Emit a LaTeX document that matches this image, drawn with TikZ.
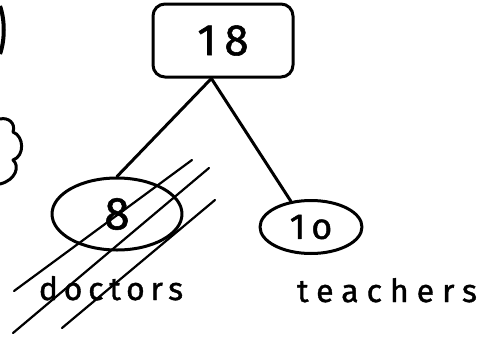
\documentclass[tikz,border=0pt]{standalone}
\usepackage{fontspec}
\setmainfont{Fira Sans}[FakeBold=1.2]
\usetikzlibrary{shapes.geometric,positioning}
\tikzset{
  ink/.style={line width=3pt, line cap=round, line join=round},
  sumbox/.style={draw, ink, rounded corners=12pt, minimum width=140pt,
    minimum height=73pt, inner sep=0pt, font=\fontsize{44}{44}\selectfont},
  part/.style={draw, ink, ellipse, inner sep=0pt},   % one group of the total
  word/.style={anchor=base, inner sep=0pt, font=\fontsize{32}{32}\selectfont},
  branch/.style={ink},
  hatch/.style={line width=2.2pt, line cap=round}    % shading over the doctors
}
\newcommand{\HatchDoctors}{%
  \foreach \xa/\ya/\xb/\yb in {14/291/192/160, 13/333/209/168, 62/328/215/200}{%
    \draw[hatch] (\xa,\ya) -- (\xb,\yb);
  }%
}

\begin{document}
\begin{tikzpicture}[x=1pt,y=-1pt]
  \useasboundingbox (0,0) rectangle (493,338);
  % whole and its two parts
  \node[sumbox] (total) at (223,40.5) {1\kern8pt 8};
  \node[part, minimum width=130pt, minimum height=72pt,
    font=\fontsize{46}{46}\selectfont] (doc) at (117,214) {8};
  \node[part, minimum width=102pt, minimum height=53pt,
    font=\fontsize{36}{36}\selectfont] (teach) at (311,227) {1\kern6pt o};
  \draw[branch] (total.-107) -- (doc.north);
  \draw[branch] (total.-107) -- (teach.128);
  % names under the parts
  \node[word] (docword) at (111,300) {\addfontfeatures{LetterSpace=18}doctors};
  \node[word] (teachword) at (387,302) {\addfontfeatures{LetterSpace=25}teachers};
  \HatchDoctors
  % bits of the neighbouring sketch at the left edge
  \draw[line width=4pt] (0,6) .. controls (5,20) and (5,40) .. (0,54);
  \draw[ink] (0,119) .. controls (8,117) and (16,123) .. (13,132)
    .. controls (24,136) and (25,156) .. (13,160)
    .. controls (20,166) and (16,180) .. (0,184);
\end{tikzpicture}
\end{document}
